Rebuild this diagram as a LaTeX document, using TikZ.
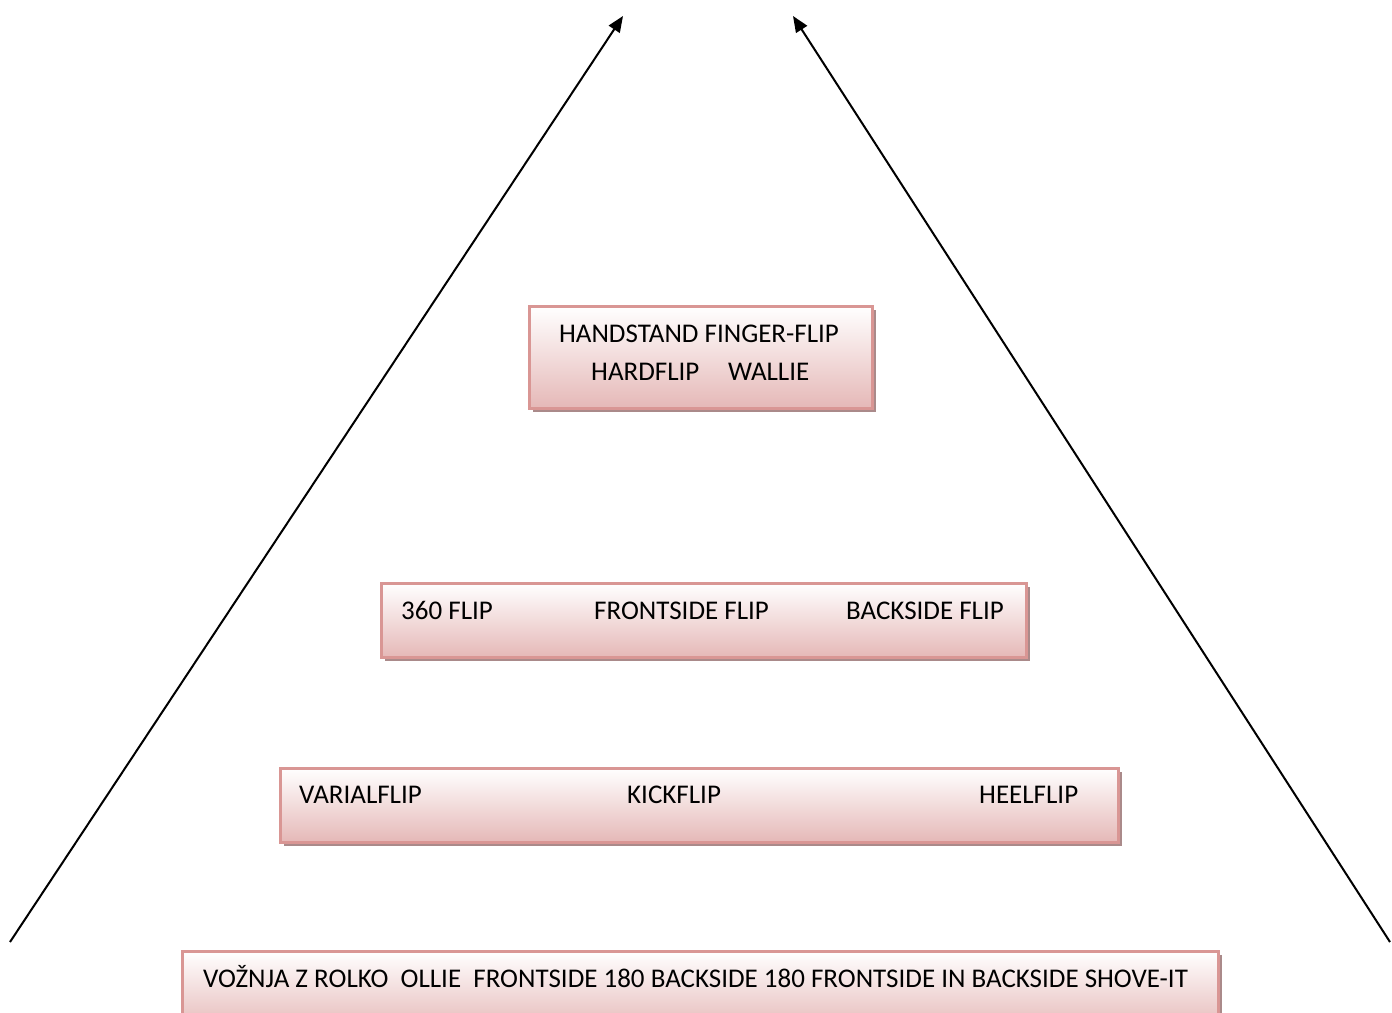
\documentclass[tikz,border=0pt]{standalone}
\usepackage{fontspec}
\setmainfont{Carlito}
\usetikzlibrary{arrows.meta,shadows}
\definecolor{boxline}{RGB}{217,150,148}
\definecolor{boxpink}{RGB}{229,184,183}
\definecolor{boxshadow}{RGB}{170,138,138}
\tikzset{
  levelbox/.style={draw=boxline, line width=2.5pt, top color=white, bottom color=boxpink,
    anchor=north west, inner sep=0pt,
    drop shadow={shadow xshift=4pt, shadow yshift=-4pt, fill=boxshadow, opacity=1}},
  lbl/.style={anchor=base west, inner sep=0pt, font=\fontsize{27}{32}\selectfont},
  clbl/.style={anchor=base, inner sep=0pt, font=\fontsize{27}{32}\selectfont},
  uparrow/.style={line width=2pt, -{Triangle[length=16pt,width=13pt]}}
}
\begin{document}
\begin{tikzpicture}[x=1pt,y=-1pt]
\useasboundingbox (0,0) rectangle (1392,1012);
\clip (0,0) rectangle (1392,1012);
% boxes
\node[levelbox, minimum width=343pt, minimum height=102pt] (b1) at (528,305) {};
\node[levelbox, minimum width=645pt, minimum height=74pt] (b2) at (380,582) {};
\node[levelbox, minimum width=838pt, minimum height=74pt] (b3) at (279,767) {};
\node[levelbox, minimum width=1036pt, minimum height=80pt] (b4) at (181,950) {};
% texts
\node[clbl] (t1) at (699,342) {HANDSTAND FINGER-FLIP};
\node[lbl] (t2) at (591,380) {HARDFLIP};
\node[lbl] (t3) at (728,380) {WALLIE};
\node[lbl] (t4) at (401,619) {360 FLIP};
\node[lbl] (t5) at (594,619) {FRONTSIDE FLIP};
\node[lbl] (t6) at (846,619) {BACKSIDE FLIP};
\node[lbl] (t7) at (299,803) {VARIALFLIP};
\node[lbl] (t8) at (627,803) {KICKFLIP};
\node[lbl] (t9) at (979,803) {HEELFLIP};
\node[lbl] (t10) at (203,987) {VOŽNJA Z ROLKO\ \ OLLIE\ \ FRONTSIDE 180 BACKSIDE 180 FRONTSIDE IN BACKSIDE SHOVE-IT};
% arrows
\coordinate (la) at (10,942);
\coordinate (lb) at (623,16);
\coordinate (ra) at (1390,942);
\coordinate (rb) at (793,16);
\draw[uparrow] (la) -- (lb);
\draw[uparrow] (ra) -- (rb);
\end{tikzpicture}
\end{document}
